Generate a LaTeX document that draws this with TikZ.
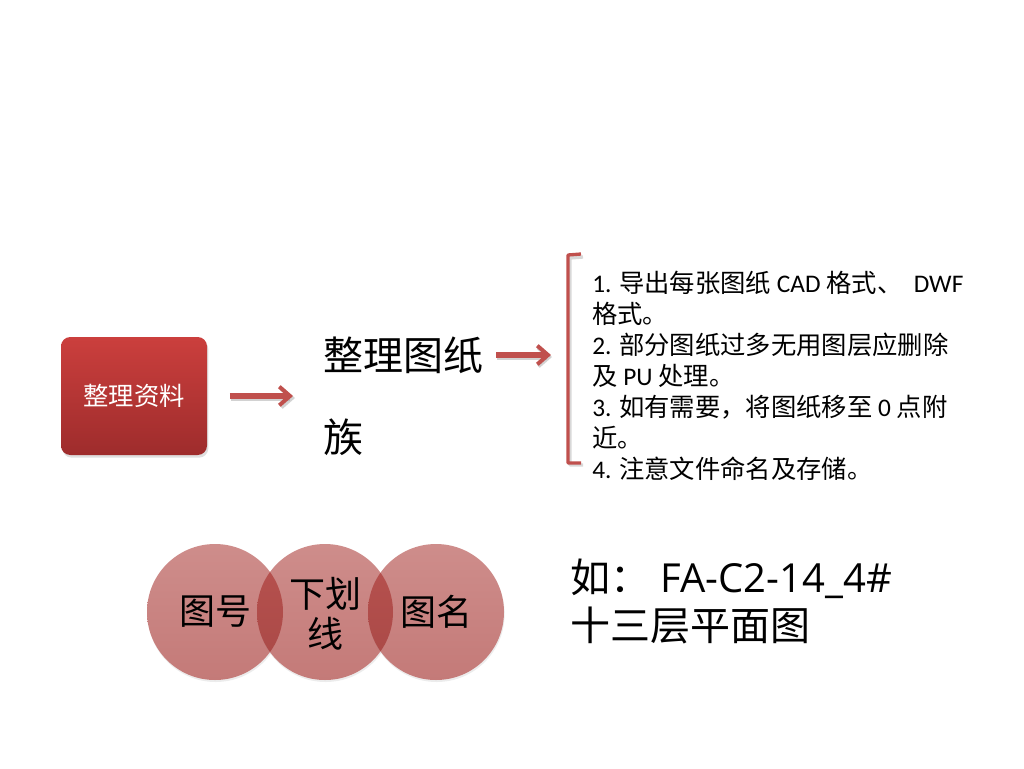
\documentclass[tikz,border=0pt]{standalone}
\usepackage{fontspec}
\setmainfont{Noto Sans CJK SC}
\newfontfamily\latfont{Carlito}
\newfontfamily\exfont{Open Sans}
\newcommand\lat[1]{{\latfont #1}}
\newcommand\exlat[1]{{\exfont #1}}
\usetikzlibrary{arrows.meta,shadows}
\definecolor{acc}{HTML}{C0504D}
\definecolor{boxtop}{HTML}{CB3F3D}
\definecolor{boxbot}{HTML}{9E2C2C}
\definecolor{circtop}{HTML}{CE8D8B}
\definecolor{circbot}{HTML}{C47A78}
\definecolor{ovtop}{HTML}{B8524F}
\definecolor{ovbot}{HTML}{A84846}
\tikzset{
  redbox/.style={rounded corners=7pt, minimum width=109.5pt, minimum height=88.5pt,
    top color=boxtop, bottom color=boxbot, draw=none, text=white,
    font=\fontsize{19}{22}\selectfont,
    drop shadow={shadow xshift=1pt, shadow yshift=-2pt, opacity=0.25}},
  arr/.style={acc, line width=4pt, -{Straight Barb[length=8pt, width=14pt, line width=3pt]}},
  arrshadow/.style={black!35, opacity=0.5, line width=4pt, -{Straight Barb[length=8pt, width=14pt, line width=3pt]}},
  brk/.style={acc, line width=2.5pt, line join=round},
  circ/.style={circle, minimum size=102pt, inner sep=0pt, top color=circtop, bottom color=circbot, draw=none},
  circtext/.style={font=\fontsize{27}{30}\selectfont, align=center, inner sep=0pt},
  bigtext/.style={font=\fontsize{30}{61.5}\selectfont, align=left, inner sep=0pt},
  listtext/.style={font=\fontsize{19}{23.25}\selectfont, align=left, inner sep=0pt},
}
\begin{document}
\begin{tikzpicture}[x=0.75pt,y=-0.75pt]
\useasboundingbox (0,0) rectangle (1024,768);

% box
\node[redbox] (box) at (134,396) {整理资料};

% title
\node[bigtext, anchor=west] (T) at (323,396) {整理图纸\\族};

% arrow 1
\draw[arrshadow, shorten <=18pt, shorten >=21pt] ([yshift=-1.5pt]box.east) -- ([yshift=-1.5pt]T.west);
\draw[arr, shorten <=17pt, shorten >=22.5pt] (box.east) -- (T.west);

% list
\node[listtext, anchor=north west] (L) at (592,271) {\lat{1. }导出每张图纸\lat{ CAD }格式、\lat{\ \ DWF}\\
格式。\\
\lat{2. }部分图纸过多无用图层应删除\\
及\lat{ PU }处理。\\
\lat{3. }如有需要，将图纸移至\lat{ 0 }点附\\
近。\\
\lat{4. }注意文件命名及存储。};

% bracket
\coordinate (bt) at (568,255);
\coordinate (bb) at (568,463);
\draw[brk, black!30, opacity=0.5] ([shift={(2,2)}]bt) ++(13,0) -- ++(-13,1) -- ([shift={(2,2)}]bb) -- ++(13,0);
\draw[brk] (bt) ++(13,-1) -- (bt) -- (bb) -- ++(13,0);

% arrow 2
\coordinate (a2s) at (496,355);
\coordinate (a2e) at (551,355);
\draw[arrshadow] ([shift={(1,2)}]a2s) -- ([shift={(1,2)}]a2e);
\draw[arr] (a2s) -- (a2e);

% circles
\node[circ, drop shadow={shadow xshift=0.5pt, shadow yshift=-1.5pt, opacity=0.15}] (c1) at (215,612) {};
\node[circ, drop shadow={shadow xshift=0.5pt, shadow yshift=-1.5pt, opacity=0.15}] (c2) at (325,612) {};
\node[circ, drop shadow={shadow xshift=0.5pt, shadow yshift=-1.5pt, opacity=0.15}] (c3) at (436,612) {};
\begin{scope}
  \clip (c1.center) circle[radius=68];
  \shade[top color=ovtop, bottom color=ovbot] (c2.center) circle[radius=68];
\end{scope}
\begin{scope}
  \clip (c2.center) circle[radius=68];
  \shade[top color=ovtop, bottom color=ovbot] (c3.center) circle[radius=68];
\end{scope}
\node[circtext] (t1) at (c1.center) {图号};
\node[circtext] (t2) at ([yshift=-1pt]c2.center) {下划\\线};
\node[circtext] (t3) at (c3.center) {图名};

% example
\node[font=\fontsize{30}{36}\selectfont, align=left, inner sep=0pt, anchor=north west] (ex) at (570,559) {如：\exlat{\ FA-C2-14\_4\#}\\十三层平面图};
\end{tikzpicture}
\end{document}
